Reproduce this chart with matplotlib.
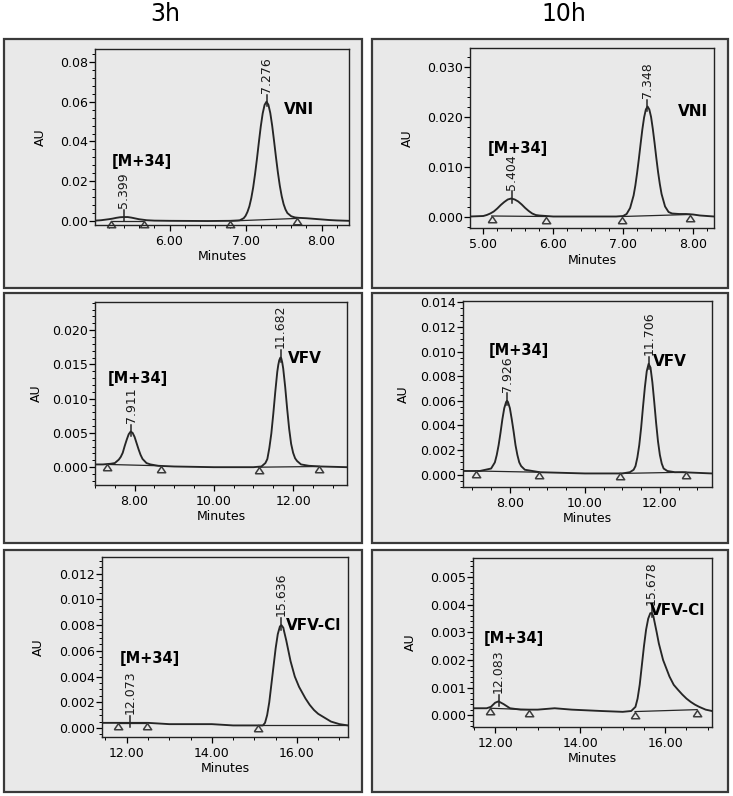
import numpy as np
import matplotlib.pyplot as plt
from matplotlib.patches import Rectangle
from matplotlib.ticker import MultipleLocator, FormatStrFormatter

# chromatogram traces (minutes, AU)
vni_3h_t = [5.02, 5.1, 5.2, 5.25, 5.3, 5.35, 5.4, 5.45, 5.5, 5.55, 5.6, 5.7, 5.8, 6.0, 6.5,
            6.8, 6.9, 6.925, 6.975, 7.0, 7.025, 7.05, 7.075, 7.1, 7.125, 7.15, 7.175, 7.2,
            7.225, 7.25, 7.275, 7.3, 7.325, 7.35, 7.375, 7.4, 7.425, 7.45, 7.475, 7.5,
            7.525, 7.55, 7.6, 7.65, 7.7, 7.8, 7.9, 8.0, 8.1, 8.2, 8.36]
vni_3h_au = [0.0002, 0.0004, 0.0009, 0.0012, 0.0016, 0.0019, 0.0020, 0.0020, 0.0017,
             0.0013, 0.0009, 0.0004, 0.0002, 0.0001, 0.0, 0.0001, 0.0003, 0.0004, 0.0014,
             0.0026, 0.0046, 0.0074, 0.0115, 0.0169, 0.0237, 0.0314, 0.0397, 0.0476,
             0.0541, 0.0584, 0.0600, 0.0585, 0.0543, 0.0479, 0.0401, 0.0320, 0.0244,
             0.0178, 0.0125, 0.0085, 0.0058, 0.0040, 0.0024, 0.0018, 0.0016, 0.0014,
             0.0011, 0.0008, 0.0005, 0.0003, 0.0001]
vni_3h_rt = [5.399, 7.276]
vni_3h_tri_t = [5.23, 5.66, 6.80, 7.67]
vni_3h_tri_au = [0.0, 0.0, 0.0, 0.0013]

vni_10h_t = [4.81, 5.0, 5.05, 5.1, 5.15, 5.2, 5.25, 5.3, 5.35, 5.4, 5.45, 5.5, 5.55, 5.6,
             5.65, 5.7, 5.75, 5.8, 5.9, 6.0, 6.5, 6.9, 7.0, 7.05, 7.1, 7.15, 7.175, 7.2,
             7.225, 7.25, 7.275, 7.3, 7.325, 7.35, 7.375, 7.4, 7.425, 7.45, 7.475, 7.5,
             7.525, 7.55, 7.6, 7.65, 7.7, 7.8, 7.9, 8.0, 8.1, 8.3]
vni_10h_au = [0.0001, 0.0002, 0.0004, 0.0007, 0.0011, 0.0017, 0.0024, 0.0030, 0.0035,
              0.0037, 0.0035, 0.0031, 0.0025, 0.0018, 0.0012, 0.0007, 0.0004, 0.0003,
              0.0002, 0.0001, 0.0001, 0.0001, 0.0002, 0.0006, 0.0018, 0.0043, 0.0063,
              0.0088, 0.0116, 0.0146, 0.0175, 0.0199, 0.0215, 0.0221, 0.0215, 0.0200,
              0.0176, 0.0148, 0.0118, 0.0090, 0.0066, 0.0046, 0.0021, 0.0010, 0.0007,
              0.0006, 0.0006, 0.0005, 0.0003, 0.0001]
vni_10h_rt = [5.404, 7.348]
vni_10h_tri_t = [5.12, 5.89, 6.99, 7.95]
vni_10h_tri_au = [0.0002, 0.0001, 0.0001, 0.0005]

vfv_3h_t = [7.0, 7.2, 7.4, 7.5, 7.6, 7.65, 7.7, 7.75, 7.8, 7.85, 7.9, 7.95, 8.0, 8.05, 8.1,
            8.15, 8.2, 8.3, 8.4, 8.6, 9.0, 10.0, 11.0, 11.2, 11.3, 11.35, 11.4, 11.45,
            11.5, 11.55, 11.6, 11.625, 11.65, 11.68, 11.7, 11.725, 11.75, 11.8, 11.85,
            11.9, 11.95, 12.0, 12.05, 12.1, 12.2, 12.4, 12.7, 13.36]
vfv_3h_au = [0.0004, 0.0004, 0.0005, 0.0006, 0.0011, 0.0015, 0.0021, 0.0031, 0.0040,
             0.0048, 0.0052, 0.0050, 0.0044, 0.0035, 0.0026, 0.0018, 0.0012, 0.0006,
             0.0004, 0.0002, 0.0001, 0.0, 0.0, 0.0001, 0.0006, 0.0012, 0.0028, 0.0049,
             0.0078, 0.0110, 0.0139, 0.0149, 0.0156, 0.0160, 0.0159, 0.0153, 0.0144,
             0.0117, 0.0085, 0.0056, 0.0034, 0.0021, 0.0013, 0.0009, 0.0004, 0.0002,
             0.0001, 0.0]
vfv_3h_rt = [7.911, 11.682]
vfv_3h_tri_t = [7.31, 8.66, 11.13, 12.66]
vfv_3h_tri_au = [0.0004, 0.0002, 0.0, 0.0001]

vfv_10h_t = [6.75, 7.2, 7.5, 7.6, 7.65, 7.7, 7.75, 7.8, 7.85, 7.9, 7.925, 7.95, 8.0, 8.05,
             8.1, 8.15, 8.2, 8.25, 8.3, 8.4, 8.6, 8.8, 10.0, 11.0, 11.2, 11.3, 11.35, 11.4,
             11.45, 11.5, 11.55, 11.6, 11.65, 11.7, 11.75, 11.8, 11.85, 11.9, 11.95, 12.0,
             12.05, 12.1, 12.2, 12.4, 12.6, 13.39]
vfv_10h_au = [0.0003, 0.0003, 0.0005, 0.0010, 0.0016, 0.0024, 0.0034, 0.0045, 0.0054,
              0.0059, 0.0060, 0.0059, 0.0054, 0.0045, 0.0035, 0.0024, 0.0016, 0.0010,
              0.0007, 0.0004, 0.0003, 0.0002, 0.0001, 0.0001, 0.0002, 0.0004, 0.0007,
              0.0014, 0.0024, 0.0038, 0.0055, 0.0071, 0.0084, 0.0090, 0.0087, 0.0075,
              0.0059, 0.0042, 0.0027, 0.0016, 0.0009, 0.0005, 0.0003, 0.0002, 0.0002,
              0.0001]
vfv_10h_rt = [7.926, 11.706]
vfv_10h_tri_t = [7.09, 8.78, 10.93, 12.69]
vfv_10h_tri_au = [0.0003, 0.0002, 0.0001, 0.0002]

vfvcl_3h_t = [11.42, 12.0, 12.5, 13.0, 14.0, 14.5, 15.0, 15.2, 15.25, 15.3, 15.35, 15.4,
              15.45, 15.5, 15.55, 15.6, 15.636, 15.68, 15.7, 15.75, 15.8, 15.85, 15.9,
              15.95, 16.0, 16.05, 16.1, 16.2, 16.3, 16.4, 16.5, 16.6, 16.7, 16.8, 16.9,
              17.0, 17.2]
vfvcl_3h_au = [0.0004, 0.0004, 0.0004, 0.0003, 0.0003, 0.0002, 0.0002, 0.0002, 0.0004,
               0.0010, 0.0020, 0.0034, 0.0048, 0.0062, 0.0073, 0.0079, 0.0080, 0.0078,
               0.0075, 0.0068, 0.0060, 0.0052, 0.0046, 0.0040, 0.0036, 0.0032, 0.0029,
               0.0023, 0.0018, 0.0014, 0.0011, 0.0009, 0.0007, 0.0005, 0.0004, 0.0003,
               0.0002]
vfvcl_3h_rt = [12.073, 15.636]
vfvcl_3h_tri_t = [11.80, 12.47, 15.08]
vfvcl_3h_tri_au = [0.0004, 0.0004, 0.0002]

vfvcl_10h_t = [11.47, 11.8, 11.9, 12.0, 12.08, 12.2, 12.35, 12.6, 13.0, 13.4, 13.8, 14.5,
               15.0, 15.2, 15.3, 15.35, 15.4, 15.45, 15.5, 15.55, 15.6, 15.65, 15.68,
               15.72, 15.76, 15.8, 15.85, 15.9, 15.95, 16.0, 16.1, 16.2, 16.3, 16.4, 16.5,
               16.6, 16.7, 16.8, 16.95, 17.1]
vfvcl_10h_au = [0.00025, 0.00025, 0.0003, 0.00045, 0.0005, 0.0004, 0.00025, 0.0002,
                0.0002, 0.00025, 0.0002, 0.00015, 0.00012, 0.00015, 0.0003, 0.0006,
                0.0011, 0.0018, 0.0025, 0.0031, 0.0035, 0.0037, 0.0037, 0.0036, 0.0033,
                0.0030, 0.0026, 0.0023, 0.0020, 0.0018, 0.0014, 0.0011, 0.00092, 0.00075,
                0.0006, 0.00048, 0.00038, 0.0003, 0.0002, 0.00015]
vfvcl_10h_rt = [12.083, 15.678]
vfvcl_10h_tri_t = [11.89, 12.79, 15.29, 16.75]
vfvcl_10h_tri_au = [0.00025, 0.0002, 0.00013, 0.0002]

W, H = 733, 796
BG = '#e9e9e9'
INK = '#262626'
plt.rcParams['font.family'] = 'DejaVu Sans'

fig = plt.figure(figsize=(W / 100, H / 100), dpi=100)

# panel boxes (px: left, right, top, bottom)
boxes = [(4, 362, 39, 288), (372, 728, 39, 288),
         (4, 362, 293, 543), (372, 728, 293, 543),
         (4, 362, 550, 792), (372, 728, 550, 792)]
for l, r, t, b in boxes:
    fig.patches.append(Rectangle((l / W, 1 - b / H), (r - l) / W, (b - t) / H,
                                 transform=fig.transFigure, facecolor=BG,
                                 edgecolor='#3a3a3a', lw=1.6, zorder=-5))

fig.text(165 / W, 1 - 14 / H, '3h', ha='center', va='center', fontsize=17)
fig.text(564 / W, 1 - 14 / H, '10h', ha='center', va='center', fontsize=17)

panels = [
    dict(t=vni_3h_t, au=vni_3h_au, rt=vni_3h_rt, tt=vni_3h_tri_t, ta=vni_3h_tri_au,
         px=(95, 349, 49, 225), xlim=(5.02, 8.36), ylim=(-0.002, 0.0865),
         xmaj=1.0, xmin=0.2, ymaj=0.02, ymin=0.004, yfmt='%.2f', aux=47,
         name='VNI', name_xy=(7.50, 0.056), pairs=[(0, 1), (2, 3)],
         m34_xy=(5.24, 0.030)),
    dict(t=vni_10h_t, au=vni_10h_au, rt=vni_10h_rt, tt=vni_10h_tri_t, ta=vni_10h_tri_au,
         px=(470, 714, 48, 228), xlim=(4.81, 8.30), ylim=(-0.0022, 0.0338),
         xmaj=1.0, xmin=0.2, ymaj=0.01, ymin=0.002, yfmt='%.3f', aux=414,
         name='VNI', name_xy=(7.78, 0.0211), pairs=[(0, 1), (2, 3)],
         m34_xy=(5.06, 0.0138)),
    dict(t=vfv_3h_t, au=vfv_3h_au, rt=vfv_3h_rt, tt=vfv_3h_tri_t, ta=vfv_3h_tri_au,
         px=(95, 347, 302, 485), xlim=(7.0, 13.36), ylim=(-0.0026, 0.0241),
         xmaj=2.0, xmin=0.5, ymaj=0.005, ymin=0.001, yfmt='%.3f', aux=43,
         name='VFV', name_xy=(11.88, 0.0159), pairs=[(0, 1), (2, 3)],
         m34_xy=(7.31, 0.0129)),
    dict(t=vfv_10h_t, au=vfv_10h_au, rt=vfv_10h_rt, tt=vfv_10h_tri_t, ta=vfv_10h_tri_au,
         px=(463, 712, 301, 487), xlim=(6.75, 13.39), ylim=(-0.001, 0.0141),
         xmaj=2.0, xmin=0.5, ymaj=0.002, ymin=0.0005, yfmt='%.3f', aux=410,
         name='VFV', name_xy=(11.82, 0.0092), pairs=[(0, 1), (2, 3)],
         m34_xy=(7.44, 0.0101)),
    dict(t=vfvcl_3h_t, au=vfvcl_3h_au, rt=vfvcl_3h_rt, tt=vfvcl_3h_tri_t, ta=vfvcl_3h_tri_au,
         px=(102, 348, 557, 737), xlim=(11.42, 17.2), ylim=(-0.0007, 0.0133),
         xmaj=2.0, xmin=0.5, ymaj=0.002, ymin=0.0005, yfmt='%.3f', aux=45,
         name='VFV-Cl', name_xy=(15.74, 0.0080), pairs=[(0, 1)],
         m34_xy=(11.83, 0.00543)),
    dict(t=vfvcl_10h_t, au=vfvcl_10h_au, rt=vfvcl_10h_rt, tt=vfvcl_10h_tri_t, ta=vfvcl_10h_tri_au,
         px=(473, 712, 558, 727), xlim=(11.48, 17.1), ylim=(-0.00043, 0.0057),
         xmaj=2.0, xmin=0.5, ymaj=0.001, ymin=0.0002, yfmt='%.3f', aux=417,
         name='VFV-Cl', name_xy=(15.65, 0.0038), pairs=[(0, 1), (2, 3)],
         m34_xy=(11.73, 0.00277)),
]

# open triangle whose tip sits on the point
tri = [(-0.67, -1.0), (0.67, -1.0), (0.0, 0.0), (-0.67, -1.0)]

for p in panels:
    l, r, t, b = p['px']
    ax = fig.add_axes([l / W, 1 - b / H, (r - l) / W, (b - t) / H])
    ax.set_facecolor(BG)
    ax.plot(p['t'], p['au'], color=INK, lw=1.35, solid_joinstyle='round')

    # integration baselines and peak start/end marks
    for i, j in p['pairs']:
        ax.plot([p['tt'][i], p['tt'][j]], [p['ta'][i], p['ta'][j]], color=INK, lw=0.9)
    if len(p['tt']) == 3:
        ax.plot([p['tt'][2], p['xlim'][1]], [p['ta'][2], p['ta'][2]], color=INK, lw=0.9)
    ax.plot(p['tt'], p['ta'], ls='none', marker=tri, ms=9, mfc=BG, mec='#3c3c3c',
            mew=1.1, clip_on=False)

    # apex marks with retention times
    yr = p['ylim'][1] - p['ylim'][0]
    for rt in p['rt']:
        h = np.interp(rt, p['t'], p['au'])
        ax.plot([rt, rt], [h - 0.025 * yr, h + 0.04 * yr], color=INK, lw=1.1)
        ax.text(rt, h + 0.05 * yr, f'{rt:.3f}', rotation=90, ha='center', va='bottom',
                fontsize=9, color='#1a1a1a')

    ax.text(p['name_xy'][0], p['name_xy'][1], p['name'], fontsize=11, fontweight='bold',
            ha='left', va='center')
    ax.text(p['m34_xy'][0], p['m34_xy'][1], '[M+34]', fontsize=10.5, fontweight='bold',
            ha='left', va='center')

    ax.set_xlim(*p['xlim'])
    ax.set_ylim(*p['ylim'])
    ax.xaxis.set_major_locator(MultipleLocator(p['xmaj']))
    ax.xaxis.set_minor_locator(MultipleLocator(p['xmin']))
    ax.yaxis.set_major_locator(MultipleLocator(p['ymaj']))
    ax.yaxis.set_minor_locator(MultipleLocator(p['ymin']))
    ax.xaxis.set_major_formatter(FormatStrFormatter('%.2f'))
    ax.yaxis.set_major_formatter(FormatStrFormatter(p['yfmt']))
    ax.tick_params(which='major', direction='out', length=4, width=0.9, labelsize=9)
    ax.tick_params(which='minor', direction='out', length=2.5, width=0.7)
    ax.tick_params(axis='y', pad=1)
    ax.tick_params(axis='x', pad=3)
    for s in ax.spines.values():
        s.set_linewidth(1.0)
        s.set_color('#222222')

    ax.set_xlabel('Minutes', fontsize=9, labelpad=2)
    ax.set_ylabel('AU', fontsize=9)
    ax.yaxis.set_label_coords((p['aux'] - l) / (r - l), 0.5)

fig.savefig('out.png', dpi=100)
